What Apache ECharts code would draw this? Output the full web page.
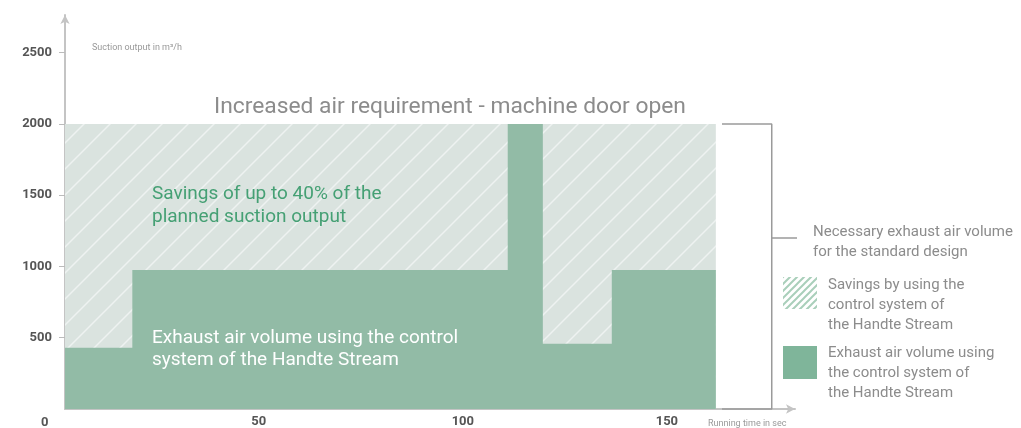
<!DOCTYPE html>
<html>
<head>
<meta charset="utf-8">
<title>Suction output - Handte Stream</title>
<script src="https://cdn.jsdelivr.net/npm/echarts@6/dist/echarts.min.js"></script>
<style>
  html, body { margin: 0; padding: 0; background: #fff; }
  #chart { width: 1021px; height: 428px; }
</style>
</head>
<body>
<div id="chart"></div>
<script>
// running time (sec) at which the level changes, and the exhaust volume from there on
const stepTimes = [2.5, 19, 111, 119.6, 136.5, 162];
const exhaustVolume = [430, 975, 2000, 458, 975, 975];
// necessary volume for the standard design (first and last time)
const standardTimes = [2.5, 162];
const standardVolume = [2000, 2000];
const yTicks = [500, 1000, 1500, 2000, 2500];
const xTicks = [50, 100, 150];

const FONT = "'Roboto', sans-serif";
const GREY = '#8c8c8c';

// diagonal stripes as a canvas pattern
function hatch(size, bg, stroke, lw) {
  const c = document.createElement('canvas');
  c.width = c.height = size;
  const g = c.getContext('2d');
  if (bg) { g.fillStyle = bg; g.fillRect(0, 0, size, size); }
  g.strokeStyle = stroke;
  g.lineWidth = lw;
  g.beginPath();
  g.moveTo(0, size); g.lineTo(size, 0);
  g.moveTo(-2, 2); g.lineTo(2, -2);
  g.moveTo(size - 2, size + 2); g.lineTo(size + 2, size - 2);
  g.stroke();
  return c;
}

const myChart = echarts.init(document.getElementById('chart'));

const exhaustData = stepTimes.map((t, i) => [t, exhaustVolume[i]]);
const standardData = standardTimes.map((t, i) => [t, standardVolume[i]]);
// bracket on the right, in data units
const bracketData = [[163.5, 2000], [175.7, 2000], [175.7, 0], [163.5, 0], null, [175.7, 1200], [182.8, 1200]];

myChart.setOption({
  animation: false,
  grid: { left: 65, right: 226, top: 15, bottom: 15 },
  xAxis: {
    type: 'value',
    min: 2.5,
    max: 181.4,
    splitLine: { show: false },
    axisTick: { show: false },
    axisLine: {
      show: true,
      lineStyle: { color: '#c4c4c4', width: 2 },
      symbol: ['none', 'arrow'],
      symbolSize: [7, 9]
    },
    axisLabel: {
      customValues: xTicks,
      color: '#555',
      fontSize: 13,
      fontWeight: 'bold',
      fontFamily: FONT,
      margin: 6
    }
  },
  yAxis: {
    type: 'value',
    min: 0,
    max: 2764,
    interval: 500,
    splitLine: { show: false },
    axisLine: {
      show: true,
      onZero: false,
      lineStyle: { color: '#c4c4c4', width: 2 },
      symbol: ['none', 'arrow'],
      symbolSize: [7, 9]
    },
    axisTick: { show: true, customValues: yTicks, length: 6, lineStyle: { color: '#bbb' } },
    axisLabel: {
      customValues: yTicks,
      formatter: (v) => String(v),
      color: '#555',
      fontSize: 13,
      fontWeight: 'bold',
      fontFamily: FONT,
      margin: 13
    }
  },
  series: [
    {
      name: 'Savings',
      type: 'line',
      data: standardData,
      symbol: 'none',
      lineStyle: { width: 0 },
      areaStyle: { color: { image: hatch(26, '#dae3df', 'rgba(255,255,255,0.55)', 1.5), repeat: 'repeat' }, opacity: 1 },
      z: 1
    },
    {
      name: 'Exhaust',
      type: 'line',
      step: 'end',
      data: exhaustData,
      symbol: 'none',
      lineStyle: { width: 0 },
      areaStyle: { color: '#92bba6', opacity: 1 },
      z: 2
    },
    {
      name: 'Bracket',
      type: 'line',
      data: bracketData,
      symbol: 'none',
      clip: false,
      silent: true,
      lineStyle: { color: '#9a9a9a', width: 1.5 },
      z: 3
    }
  ],
  graphic: {
    elements: [
      { type: 'text', left: 92, top: 43, style: { text: 'Suction output in m³/h', fill: '#999', font: '9px ' + FONT } },
      { type: 'text', left: 41, top: 416, style: { text: '0', fill: '#555', font: 'bold 13px ' + FONT } },
      { type: 'text', left: 708, top: 419, style: { text: 'Running time in sec', fill: '#999', font: '9px ' + FONT } },
      { type: 'text', left: 214, top: 96, style: { text: 'Increased air requirement - machine door open', fill: GREY, font: '22.8px ' + FONT } },
      { type: 'text', left: 152, top: 183, z: 10, style: { text: 'Savings of up to 40% of the\nplanned suction output', fill: '#45a074', font: '19px ' + FONT, lineHeight: 23 } },
      { type: 'text', left: 152, top: 327, z: 10, style: { text: 'Exhaust air volume using the control\nsystem of the Handte Stream', fill: '#fff', font: '19px ' + FONT, lineHeight: 22 } },
      { type: 'text', left: 813, top: 222, style: { text: 'Necessary exhaust air volume\nfor the standard design', fill: GREY, font: '15px ' + FONT, lineHeight: 20 } },
      { type: 'rect', left: 783, top: 277, shape: { width: 34, height: 32 }, style: { fill: { image: hatch(7, '#fff', '#a9cfba', 2), repeat: 'repeat' } } },
      { type: 'text', left: 828, top: 275, style: { text: 'Savings by using the\ncontrol system of\nthe Handte Stream', fill: GREY, font: '15px ' + FONT, lineHeight: 20 } },
      { type: 'rect', left: 783, top: 346, shape: { width: 34, height: 33 }, style: { fill: '#7fb59a' } },
      { type: 'text', left: 828, top: 343, style: { text: 'Exhaust air volume using\nthe control system of\nthe Handte Stream', fill: GREY, font: '15px ' + FONT, lineHeight: 20 } }
    ]
  }
});

window.addEventListener('resize', () => myChart.resize());
</script>
</body>
</html>
